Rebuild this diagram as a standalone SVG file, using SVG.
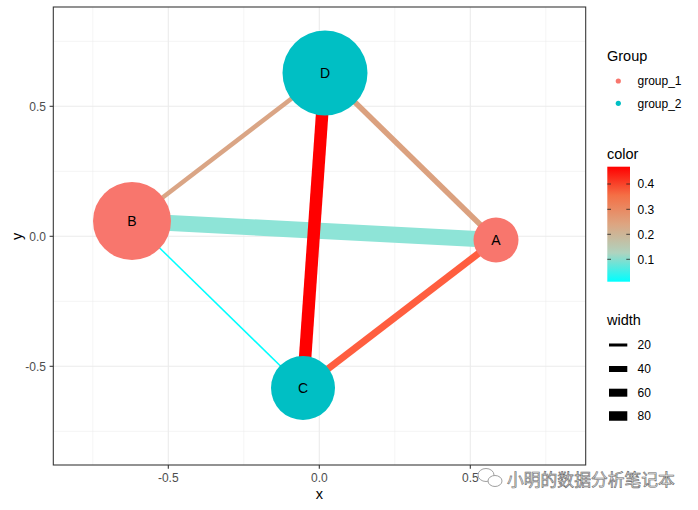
<svg xmlns="http://www.w3.org/2000/svg" width="698" height="510" viewBox="0 0 698 510">
<defs>
<style>
.gmaj{stroke:#EBEBEB;stroke-width:1.07;fill:none}
.gmin{stroke:#EBEBEB;stroke-width:0.55;fill:none}
.tick{stroke:#333333;stroke-width:1.07}
.tl{font-family:"Liberation Sans",Arial,sans-serif;font-size:12px;fill:#4D4D4D}
.ttl{font-family:"Liberation Sans",Arial,sans-serif;font-size:14.5px;fill:#000}
.lg{font-family:"Liberation Sans",Arial,sans-serif;font-size:12px;fill:#000}
.nl{font-family:"Liberation Sans",Arial,sans-serif;font-size:14px;fill:#000;text-anchor:middle}
.g1{fill:#F8766D}
.g2{fill:#00BFC4}
.edge{fill:none;stroke-linecap:butt}
</style>
<linearGradient id="cbar" x1="0" y1="0" x2="0" y2="1">
<stop offset="0" stop-color="#FF0000"/>
<stop offset="0.25" stop-color="#F47046"/>
<stop offset="0.5" stop-color="#DDA581"/>
<stop offset="0.75" stop-color="#AFD3BF"/>
<stop offset="1" stop-color="#00FFFF"/>
</linearGradient>
</defs>
<rect width="698" height="510" fill="#fff"/>
<g id="panel">
<rect x="53.3" y="7" width="532.4" height="458" fill="#fff"/>
<g class="gmin">
<line x1="92.8" y1="7" x2="92.8" y2="465"/>
<line x1="243.8" y1="7" x2="243.8" y2="465"/>
<line x1="394.8" y1="7" x2="394.8" y2="465"/>
<line x1="545.8" y1="7" x2="545.8" y2="465"/>
<line x1="53.3" y1="41.3" x2="585.7" y2="41.3"/>
<line x1="53.3" y1="171.3" x2="585.7" y2="171.3"/>
<line x1="53.3" y1="301.3" x2="585.7" y2="301.3"/>
<line x1="53.3" y1="431.3" x2="585.7" y2="431.3"/>
</g>
<g class="gmaj">
<line x1="168.3" y1="7" x2="168.3" y2="465"/>
<line x1="319.3" y1="7" x2="319.3" y2="465"/>
<line x1="470.3" y1="7" x2="470.3" y2="465"/>
<line x1="53.3" y1="106.3" x2="585.7" y2="106.3"/>
<line x1="53.3" y1="236.3" x2="585.7" y2="236.3"/>
<line x1="53.3" y1="366.3" x2="585.7" y2="366.3"/>
</g>
</g>
<g id="connectors">
<line class="edge" x1="132" y1="221" x2="496" y2="240" stroke="#8EE4D7" stroke-width="16"/>
<line class="edge" x1="325" y1="73" x2="496" y2="240" stroke="#DBA17F" stroke-width="5.5"/>
<line class="edge" x1="325" y1="73" x2="132" y2="221" stroke="#DAA585" stroke-width="4.5"/>
<line class="edge" x1="303" y1="388" x2="496" y2="240" stroke="#FF5E3F" stroke-width="7"/>
<line class="edge" x1="132" y1="221" x2="303" y2="388" stroke="#00FFFF" stroke-width="1.5"/>
<line class="edge" x1="325" y1="73" x2="303" y2="388" stroke="#FF0000" stroke-width="12.5"/>
</g>
<g id="node-A"><circle class="g1" cx="496" cy="240" r="22.5"/><text class="nl" x="496" y="245">A</text></g>
<g id="node-B"><circle class="g1" cx="132" cy="221" r="39"/><text class="nl" x="132" y="226">B</text></g>
<g id="node-C"><circle class="g2" cx="303" cy="388" r="32"/><text class="nl" x="303" y="393">C</text></g>
<g id="node-D"><circle class="g2" cx="325" cy="73" r="42.5"/><text class="nl" x="325" y="78">D</text></g>
<g id="axes">
<rect x="53.3" y="7" width="532.4" height="458" fill="none" stroke="#333333" stroke-width="1.07"/>
<g class="tick">
<line x1="49.6" y1="106.3" x2="53.3" y2="106.3"/>
<line x1="49.6" y1="236.3" x2="53.3" y2="236.3"/>
<line x1="49.6" y1="366.3" x2="53.3" y2="366.3"/>
<line x1="168.3" y1="465" x2="168.3" y2="468.7"/>
<line x1="319.3" y1="465" x2="319.3" y2="468.7"/>
<line x1="470.3" y1="465" x2="470.3" y2="468.7"/>
</g>
<text class="tl" x="46" y="110.5" text-anchor="end">0.5</text>
<text class="tl" x="46" y="240.5" text-anchor="end">0.0</text>
<text class="tl" x="46" y="370.5" text-anchor="end">-0.5</text>
<text class="tl" x="168.3" y="482" text-anchor="middle">-0.5</text>
<text class="tl" x="319.3" y="482" text-anchor="middle">0.0</text>
<text class="tl" x="470.3" y="482" text-anchor="middle">0.5</text>
<text class="ttl" x="319.3" y="499" text-anchor="middle">x</text>
<text class="ttl" x="0" y="0" text-anchor="middle" transform="translate(22 236.3) rotate(-90)">y</text>
</g>
<g id="legend-group">
<text class="ttl" x="607" y="61">Group</text>
<circle class="g1" cx="618.3" cy="81" r="2.6"/>
<text class="lg" x="637.5" y="85.3">group_1</text>
<circle class="g2" cx="618.3" cy="103.3" r="2.6"/>
<text class="lg" x="637.5" y="107.6">group_2</text>
</g>
<g id="legend-color">
<text class="ttl" x="607" y="159">color</text>
<rect x="607.3" y="166.7" width="22.7" height="115" fill="url(#cbar)"/>
<g stroke="#222" stroke-width="0.8">
<line x1="607.3" y1="184" x2="611" y2="184"/><line x1="626.3" y1="184" x2="630" y2="184"/>
<line x1="607.3" y1="209.3" x2="611" y2="209.3"/><line x1="626.3" y1="209.3" x2="630" y2="209.3"/>
<line x1="607.3" y1="234.3" x2="611" y2="234.3"/><line x1="626.3" y1="234.3" x2="630" y2="234.3"/>
<line x1="607.3" y1="259.3" x2="611" y2="259.3"/><line x1="626.3" y1="259.3" x2="630" y2="259.3"/>
</g>
<text class="lg" x="637.5" y="188.3">0.4</text>
<text class="lg" x="637.5" y="213.6">0.3</text>
<text class="lg" x="637.5" y="238.6">0.2</text>
<text class="lg" x="637.5" y="263.6">0.1</text>
</g>
<g id="legend-width">
<text class="ttl" x="607" y="325">width</text>
<g stroke="#000">
<line x1="609" y1="345" x2="627.3" y2="345" stroke-width="3"/>
<line x1="609" y1="369" x2="627.3" y2="369" stroke-width="6"/>
<line x1="609" y1="392.7" x2="627.3" y2="392.7" stroke-width="8"/>
<line x1="609" y1="416" x2="627.3" y2="416" stroke-width="9.5"/>
</g>
<text class="lg" x="637.5" y="349.3">20</text>
<text class="lg" x="637.5" y="373.3">40</text>
<text class="lg" x="637.5" y="397">60</text>
<text class="lg" x="637.5" y="420.3">80</text>
</g>
<g id="watermark">
<ellipse cx="486" cy="475" rx="8" ry="6.5" fill="#fff" stroke="#a0a0a0" stroke-width="1"/>
<ellipse cx="495" cy="481" rx="7" ry="5.5" fill="#fff" stroke="#a0a0a0" stroke-width="1"/>
<text x="507" y="486" font-family="'Noto Sans CJK SC',sans-serif" font-size="16.8" fill="#e6e6e6" stroke="#6a6a6a" stroke-width="0.6">小明的数据分析笔记本</text>
</g>
</svg>
